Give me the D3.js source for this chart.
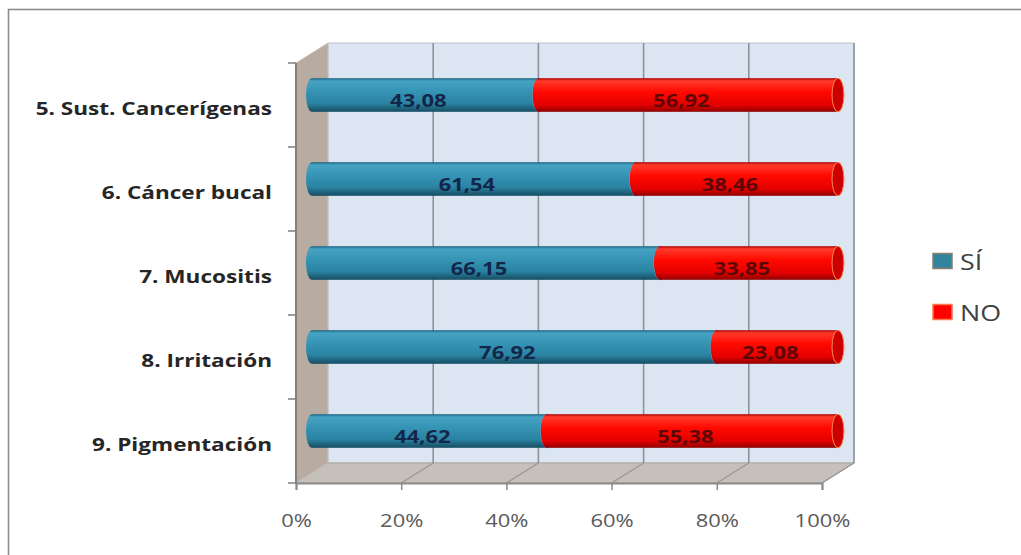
<!DOCTYPE html>
<html>
<head>
<meta charset="utf-8">
<script src="https://cdn.jsdelivr.net/npm/d3@7"></script>
<style>
  html, body { margin: 0; padding: 0; background: #ffffff; }
  svg { display: block; }
</style>
</head>
<body>
<svg id="chart" width="1021" height="555"></svg>
<script>
// Survey answers per item (percent of respondents)
const categories = ["5. Sust. Cancerígenas", "6. Cáncer bucal", "7. Mucositis", "8. Irritación", "9. Pigmentación"];
const seriesNames = ["SÍ", "NO"];
const valuesSi = [43.08, 61.54, 66.15, 76.92, 44.62];
const valuesNo = [56.92, 38.46, 33.85, 23.08, 55.38];
const tickValues = [0, 20, 40, 60, 80, 100];

const svg = d3.select("#chart");
const W = 1021, H = 555;

// Oblique 3D geometry: front plane plus a depth offset toward the upper right
const depth = { dx: 32, dy: -20 };
const x = d3.scaleLinear().domain([0, 100]).range([296, 822]);
const y = d3.scaleBand().domain(categories).range([63, 483]).padding(0);
const barFrac = 0.4;                 // cylinder thickness relative to band
const barDepth = 0.5;                // cylinders sit halfway into the box
const rx = 6;                        // end-cap ellipse half width
const textStretch = 1.22;            // horizontal stretch of all labels

const seriesColors = {
  "SÍ": { stops: [[0, "#1b6180"], [0.08, "#48a3c3"], [0.35, "#3796b6"], [0.75, "#2a82a1"], [1, "#154c62"]],
          cap: "#2a7f9c", capStroke: "#5aaecb", label: "#14264a", legend: "#31849b", legendStroke: "#8c7d6e" },
  "NO": { stops: [[0, "#a80000"], [0.08, "#ff3b2b"], [0.4, "#ff0a00"], [0.8, "#e30000"], [1, "#8c0000"]],
          cap: "#cc0000", capStroke: "#ff8a55", label: "#5e0606", legend: "#ff0000", legendStroke: "#ff7a45" }
};

const defs = svg.append("defs");
seriesNames.forEach((s, i) => {
  const g = defs.append("linearGradient")
    .attr("id", "cyl" + i).attr("x1", 0).attr("y1", 0).attr("x2", 0).attr("y2", 1);
  seriesColors[s].stops.forEach(st => g.append("stop").attr("offset", st[0]).attr("stop-color", st[1]));
});

// Outer chart frame
svg.append("rect")
  .attr("x", 8.5).attr("y", 9.5).attr("width", W + 20).attr("height", H + 20)
  .attr("fill", "none").attr("stroke", "#8e8e8e").attr("stroke-width", 1.6);

const y0 = y.range()[0], y1 = y.range()[1];
const xa = x(0), xb = x(100);

// Back wall
svg.append("rect")
  .attr("x", xa + depth.dx).attr("y", y0 + depth.dy)
  .attr("width", xb - xa).attr("height", y1 - y0)
  .attr("fill", "#dce6f2").attr("stroke", "#b8c2cf").attr("stroke-width", 1);

// Floor
const pt = (px, py) => px + "," + py;
svg.append("polygon")
  .attr("points", [pt(xa, y1), pt(xb, y1), pt(xb + depth.dx, y1 + depth.dy), pt(xa + depth.dx, y1 + depth.dy)].join(" "))
  .attr("fill", "#c6c0bb").attr("stroke", "#a9a39e").attr("stroke-width", 1);

// Left wall
svg.append("polygon")
  .attr("points", [pt(xa, y0), pt(xa + depth.dx, y0 + depth.dy), pt(xa + depth.dx, y1 + depth.dy), pt(xa, y1)].join(" "))
  .attr("fill", "#b8aba2").attr("stroke", "#cbc1ba").attr("stroke-width", 1);

// Gridlines on back wall and floor
const grid = svg.append("g").attr("stroke", "#8d939c").attr("stroke-width", 1.6).attr("fill", "none");
tickValues.filter(t => t > 0).forEach(t => {
  const bx = x(t) + depth.dx;
  grid.append("line")
    .attr("x1", bx).attr("x2", bx)
    .attr("y1", y0 + depth.dy).attr("y2", y1 + depth.dy);
  grid.append("line")
    .attr("x1", bx).attr("y1", y1 + depth.dy)
    .attr("x2", x(t)).attr("y2", y1)
    .attr("stroke", "#9a9591").attr("stroke-width", 1.2);
});

// Floor front edge and bottom axis
const axisG = svg.append("g").attr("transform", `translate(0,${y1})`)
  .call(d3.axisBottom(x).tickValues(tickValues).tickFormat(d => d + "%").tickSize(7).tickPadding(24));
axisG.select(".domain").attr("stroke", "#8a8a8a").attr("stroke-width", 2);
axisG.selectAll(".tick line").attr("stroke", "#8a8a8a").attr("stroke-width", 1.5);
axisG.selectAll(".tick text")
  .attr("fill", "#5a5a5a")
  .style("font-family", "'Open Sans', sans-serif")
  .style("font-size", "18px")
  .attr("transform", `scale(${textStretch},1)`)
  .attr("x", 0);

// Vertical axis line with ticks on category boundaries
const vAxis = svg.append("g").attr("stroke", "#7f7f7f");
vAxis.append("line").attr("x1", xa).attr("x2", xa).attr("y1", y0).attr("y2", y1).attr("stroke-width", 2);
const bounds = categories.map(c => y(c)).concat([y1]);
bounds.forEach(b => {
  vAxis.append("line").attr("x1", xa - 8).attr("x2", xa).attr("y1", b).attr("y2", b).attr("stroke-width", 1.5);
});

// Category labels
svg.append("g").selectAll("text").data(categories).join("text")
  .attr("transform", c => `translate(272,${y(c) + y.bandwidth() / 2 + 3}) scale(${textStretch},1)`)
  .attr("text-anchor", "end")
  .attr("dominant-baseline", "central")
  .attr("fill", "#262626")
  .style("font-family", "'Open Sans', sans-serif")
  .style("font-weight", "700")
  .style("font-size", "18.5px")
  .text(c => c);

// Stacked cylinders
const seriesValues = [valuesSi, valuesNo];
const bars = svg.append("g");
categories.forEach((c, ci) => {
  const h = y.bandwidth() * barFrac;
  const cy = y(c) + y.bandwidth() / 2 + depth.dy * barDepth;
  let acc = 0;
  seriesNames.forEach((s, si) => {
    const v = seriesValues[si][ci];
    const xs = x(acc) + depth.dx * barDepth;
    const xe = x(acc + v) + depth.dx * barDepth;
    const g = bars.append("g");
    const fill = `url(#cyl${si})`;
    g.append("ellipse").attr("cx", xs).attr("cy", cy).attr("rx", rx).attr("ry", h / 2).attr("fill", fill);
    g.append("rect").attr("x", xs).attr("y", cy - h / 2).attr("width", xe - xs).attr("height", h).attr("fill", fill);
    g.append("ellipse").attr("cx", xe).attr("cy", cy).attr("rx", rx).attr("ry", h / 2)
      .attr("fill", seriesColors[s].cap).attr("stroke", seriesColors[s].capStroke).attr("stroke-width", 1);
    acc += v;
  });
});

// Value labels
const labels = svg.append("g");
categories.forEach((c, ci) => {
  let acc = 0;
  seriesNames.forEach((s, si) => {
    const v = seriesValues[si][ci];
    const lx = x(acc + v / 2) + 9;
    const ly = y(c) + y.bandwidth() / 2 - 5;
    labels.append("text")
      .attr("transform", `translate(${lx},${ly}) scale(${textStretch},1)`)
      .attr("text-anchor", "middle")
      .attr("dominant-baseline", "central")
      .attr("fill", seriesColors[s].label)
      .style("font-family", "'Open Sans', sans-serif")
      .style("font-weight", "700")
      .style("font-size", "18px")
      .text(d3.format(".2f")(v).replace(".", ","));
    acc += v;
  });
});

// Legend
const legend = svg.append("g");
seriesNames.forEach((s, i) => {
  const ly = 261 + i * 51;
  legend.append("rect")
    .attr("x", 933).attr("y", ly - 7.5).attr("width", 19).attr("height", 15)
    .attr("fill", seriesColors[s].legend).attr("stroke", seriesColors[s].legendStroke).attr("stroke-width", 1.5);
  legend.append("text")
    .attr("transform", `translate(960,${ly}) scale(${textStretch},1)`)
    .attr("dominant-baseline", "central")
    .attr("fill", "#404040")
    .style("font-family", "'Open Sans', sans-serif")
    .style("font-size", "22px")
    .text(s);
});
</script>
</body>
</html>
